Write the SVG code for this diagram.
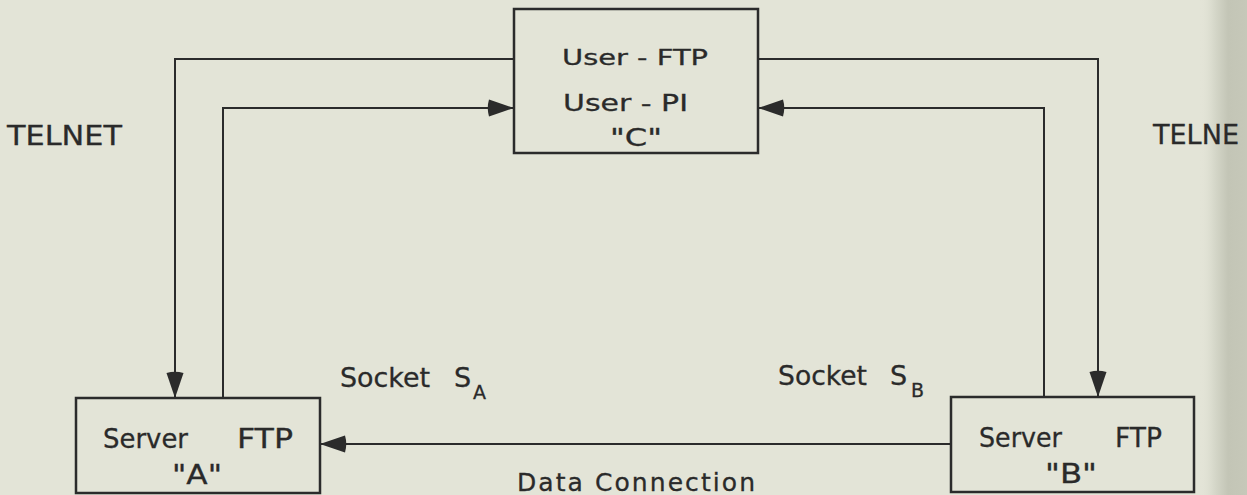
<svg xmlns="http://www.w3.org/2000/svg" width="1247" height="495" viewBox="0 0 1247 495">
  <defs>
    <style>
      .box { fill: none; stroke: #2b2b2b; stroke-width: 2.5; }
      .wire { fill: none; stroke: #2b2b2b; stroke-width: 2; }
      .lbl { font-family: "DejaVu Sans", "Liberation Sans", sans-serif; fill: #2a2a2a; stroke: #2a2a2a; stroke-width: 0.3; }
    </style>
    <marker id="head" viewBox="-28 -9 29 18" refX="0" refY="0" markerWidth="29" markerHeight="18" markerUnits="userSpaceOnUse" orient="auto">
      <path d="M0,0 L-25,-8.5 Q-27.5,0 -25,8.5 Z" fill="#2b2b2b"/>
    </marker>
    <linearGradient id="edge" x1="0" y1="0" x2="1" y2="0">
      <stop offset="0" stop-color="#e3e4d7" stop-opacity="0"/>
      <stop offset="0.3" stop-color="#d6d8ca"/>
      <stop offset="0.6" stop-color="#c3c5b6"/>
      <stop offset="1" stop-color="#c6c8b9"/>
    </linearGradient>
  </defs>

  <!-- paper -->
  <rect x="0" y="0" width="1247" height="495" fill="#e3e4d7"/>
  <rect x="1200" y="0" width="47" height="495" fill="url(#edge)"/>

  <!-- side labels -->
  <text class="lbl" x="7" y="145" font-size="27" textLength="115" lengthAdjust="spacingAndGlyphs">TELNET</text>
  <text class="lbl" x="1153" y="144" font-size="27" textLength="86" lengthAdjust="spacingAndGlyphs">TELNE</text>

  <!-- connectors -->
  <g id="connectors">
    <path class="wire" d="M514,59 H175 V398" marker-end="url(#head)"/>
    <path class="wire" d="M223,398 V108 H514" marker-end="url(#head)"/>
    <path class="wire" d="M758,59 H1098 V397" marker-end="url(#head)"/>
    <path class="wire" d="M1044,397 V108 H758" marker-end="url(#head)"/>
    <path class="wire" d="M951,444 H320" marker-end="url(#head)"/>
  </g>

  <!-- user node -->
  <g id="node-c">
    <rect class="box" x="514" y="9" width="244" height="144"/>
    <text class="lbl" x="562" y="65" font-size="22" textLength="146" lengthAdjust="spacingAndGlyphs">User - FTP</text>
    <text class="lbl" x="563" y="111" font-size="23" textLength="125" lengthAdjust="spacingAndGlyphs">User - PI</text>
    <text class="lbl" x="610" y="146" font-size="24" textLength="52" lengthAdjust="spacingAndGlyphs">"C"</text>
  </g>

  <!-- server A -->
  <g id="node-a">
    <rect class="box" x="76" y="398" width="244" height="95"/>
    <text class="lbl" x="103" y="448" font-size="27" textLength="85" lengthAdjust="spacingAndGlyphs">Server</text>
    <text class="lbl" x="237" y="448" font-size="27" textLength="56" lengthAdjust="spacingAndGlyphs">FTP</text>
    <text class="lbl" x="172" y="484" font-size="26" textLength="50" lengthAdjust="spacingAndGlyphs">"A"</text>
  </g>

  <!-- server B -->
  <g id="node-b">
    <rect class="box" x="951" y="397" width="243" height="95"/>
    <text class="lbl" x="979" y="447" font-size="27" textLength="83" lengthAdjust="spacingAndGlyphs">Server</text>
    <text class="lbl" x="1115" y="447" font-size="27" textLength="47" lengthAdjust="spacingAndGlyphs">FTP</text>
    <text class="lbl" x="1045" y="483" font-size="26" textLength="52" lengthAdjust="spacingAndGlyphs">"B"</text>
  </g>

  <!-- socket labels -->
  <g id="socket-a">
    <text class="lbl" x="340" y="387" font-size="27" textLength="90" lengthAdjust="spacingAndGlyphs">Socket</text>
    <text class="lbl" x="454" y="387" font-size="27">S</text>
    <text class="lbl" x="473" y="399" font-size="19">A</text>
  </g>
  <g id="socket-b">
    <text class="lbl" x="778" y="385" font-size="27" textLength="89" lengthAdjust="spacingAndGlyphs">Socket</text>
    <text class="lbl" x="890" y="385" font-size="27">S</text>
    <text class="lbl" x="911" y="397" font-size="19">B</text>
  </g>

  <!-- data path label -->
  <text class="lbl" x="517" y="491" font-size="25" textLength="238" lengthAdjust="spacing">Data Connection</text>
</svg>
